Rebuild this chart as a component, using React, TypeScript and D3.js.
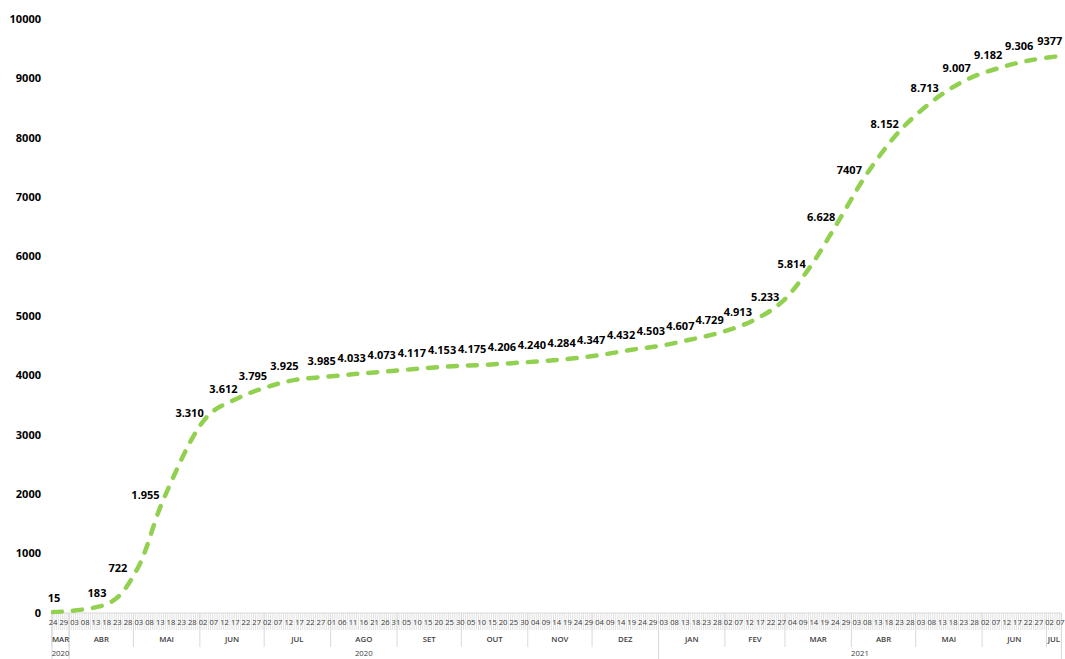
import React from "react";
import * as d3 from "d3";

// Cumulative totals, sampled on these dates
const sampleDates = [
  "2020-03-24", "2020-04-20", "2020-05-02", "2020-05-15", "2020-06-04", "2020-06-18",
  "2020-07-01", "2020-07-15", "2020-08-01", "2020-08-15", "2020-08-29", "2020-09-12",
  "2020-09-26", "2020-10-10", "2020-10-24", "2020-11-07", "2020-11-21", "2020-12-05",
  "2020-12-19", "2021-01-02", "2021-01-16", "2021-01-30", "2021-02-13", "2021-02-27",
  "2021-03-12", "2021-03-26", "2021-04-08", "2021-04-24", "2021-05-12", "2021-05-26",
  "2021-06-09", "2021-06-23", "2021-07-07",
];
const totals = [
  15, 183, 722, 1955, 3310, 3612, 3795, 3925, 3985, 4033, 4073, 4117, 4153, 4175, 4206,
  4240, 4284, 4347, 4432, 4503, 4607, 4729, 4913, 5233, 5814, 6628, 7407, 8152, 8713,
  9007, 9182, 9306, 9377,
];
// Data labels exactly as printed next to each point
const totalLabels = [
  "15", "183", "722", "1.955", "3.310", "3.612", "3.795", "3.925", "3.985", "4.033", "4.073",
  "4.117", "4.153", "4.175", "4.206", "4.240", "4.284", "4.347", "4.432", "4.503", "4.607",
  "4.729", "4.913", "5.233", "5.814", "6.628", "7407", "8.152", "8.713", "9.007", "9.182",
  "9.306", "9377",
];
const yTicks = [0, 1000, 2000, 3000, 4000, 5000, 6000, 7000, 8000, 9000, 10000];
const monthNames = ["JAN", "FEV", "MAR", "ABR", "MAI", "JUN", "JUL", "AGO", "SET", "OUT", "NOV", "DEZ"];
const yearLabels = ["2020", "2020", "2021"];
const yearStarts = ["2020-03-24", "2020-04-01", "2021-01-01"];
const axisFirstDay = "2020-03-24";
const axisEndExclusive = "2021-07-08";

const W = 1065;
const H = 659;
const X0 = 52;
const X1 = 1061.4;
const Y0 = 613;
const Y1 = 19;
const GREEN = "#92D050";
const FONT = "'Open Sans', 'Liberation Sans', sans-serif";

const parse = d3.utcParse("%Y-%m-%d");
const HALF_DAY = 12 * 3600 * 1000;

export default function App() {
  const start = parse(axisFirstDay)!;
  const end = parse(axisEndExclusive)!;
  const x = d3.scaleUtc().domain([start, end]).range([X0, X1]);
  const y = d3.scaleLinear().domain([0, 10000]).range([Y0, Y1]);
  const slotCenter = (d: Date) => x(new Date(d.getTime() + HALF_DAY));

  const pts = sampleDates.map((s, i) => ({ x: slotCenter(parse(s)!), y: y(totals[i]) }));

  const line = d3
    .line<{ x: number; y: number }>()
    .x((p) => p.x)
    .y((p) => p.y)
    .curve(d3.curveCatmullRom.alpha(0.5));

  // Label placement follows the local direction of the curve:
  // above-left on flat stretches, to the left on steep ones.
  const labelPos = pts.map((p, i) => {
    const a = pts[Math.max(i - 1, 0)];
    const b = pts[Math.min(i + 1, pts.length - 1)];
    const dx = b.x - a.x;
    const dy = b.y - a.y;
    const s = Math.abs(dy) / Math.hypot(dx, dy);
    let lx = p.x - 9 - 11 * s;
    const ly = p.y - 17 * (1 - s);
    lx = Math.max(lx, X0 + 2);
    return { x: lx, y: ly };
  });

  const days = d3.utcDay.range(start, end);
  const dayEdges = d3.utcDay.range(start, d3.utcDay.offset(end, 1));
  const dateTicks = days.filter((_, i) => i % 5 === 0);

  const months = d3.utcMonth.range(d3.utcMonth.floor(start), end).map((m) => {
    const s = m < start ? start : m;
    const nm = d3.utcMonth.offset(m, 1);
    const e = nm > end ? end : nm;
    return { label: monthNames[m.getUTCMonth()], x0: x(s), x1: x(e) };
  });

  const years = yearStarts.map((s, i) => {
    const s0 = parse(s)!;
    const e0 = i + 1 < yearStarts.length ? parse(yearStarts[i + 1])! : end;
    return { label: yearLabels[i], x0: x(s0), x1: x(e0) };
  });

  const fmtDay = d3.utcFormat("%d");

  return (
    <svg
      width={W}
      height={H}
      style={{ position: "absolute", left: 0, top: 0, background: "#fff" }}
      fontFamily={FONT}
    >
      {/* day tick marks */}
      <g stroke="#d6d6d6" strokeWidth={0.7}>
        {dayEdges.map((d, i) => (
          <line key={i} x1={x(d)} x2={x(d)} y1={Y0} y2={630} />
        ))}
      </g>
      {/* month separators */}
      <g stroke="#d9d9d9" strokeWidth={1}>
        {months.map((m, i) => (
          <line key={i} x1={m.x0} x2={m.x0} y1={Y0} y2={647} />
        ))}
        <line x1={X1} x2={X1} y1={Y0} y2={647} />
      </g>
      {/* year separators */}
      <g stroke="#d9d9d9" strokeWidth={1}>
        {years.map((yr, i) => (
          <line key={i} x1={yr.x0} x2={yr.x0} y1={Y0} y2={H} />
        ))}
        <line x1={X1} x2={X1} y1={Y0} y2={H} />
      </g>
      <line x1={X0} x2={X1} y1={Y0} y2={Y0} stroke="#d9d9d9" strokeWidth={1} />

      {/* day labels */}
      <g fontSize={7.6} fill="#3a3a3a" textAnchor="middle">
        {dateTicks.map((d, i) => (
          <text key={i} x={slotCenter(d)} y={622.5} dy="0.35em">
            {fmtDay(d)}
          </text>
        ))}
      </g>
      {/* month labels */}
      <g fontSize={7.8} fill="#404040" fontWeight={600} textAnchor="middle">
        {months.map((m, i) => (
          <text key={i} x={(m.x0 + m.x1) / 2} y={639.5} dy="0.35em">
            {m.label}
          </text>
        ))}
      </g>
      {/* year labels */}
      <g fontSize={7.8} fill="#404040" textAnchor="middle">
        {years.map((yr, i) => (
          <text key={i} x={(yr.x0 + yr.x1) / 2} y={653} dy="0.35em">
            {yr.label}
          </text>
        ))}
      </g>

      {/* y axis labels */}
      <g fontSize={11} fontWeight={700} fill="#000" textAnchor="end">
        {yTicks.map((t) => (
          <text key={t} x={41} y={y(t)} dy="0.35em">
            {t}
          </text>
        ))}
      </g>

      {/* series */}
      <path
        d={line(pts) ?? ""}
        fill="none"
        stroke={GREEN}
        strokeWidth={4.5}
        strokeDasharray="9 11"
        strokeLinecap="round"
      />

      {/* data labels */}
      <g fontSize={11} fontWeight={700} fill="#000" textAnchor="middle">
        {labelPos.map((p, i) => (
          <text key={i} x={p.x} y={p.y} dy="0.35em">
            {totalLabels[i]}
          </text>
        ))}
      </g>
    </svg>
  );
}
